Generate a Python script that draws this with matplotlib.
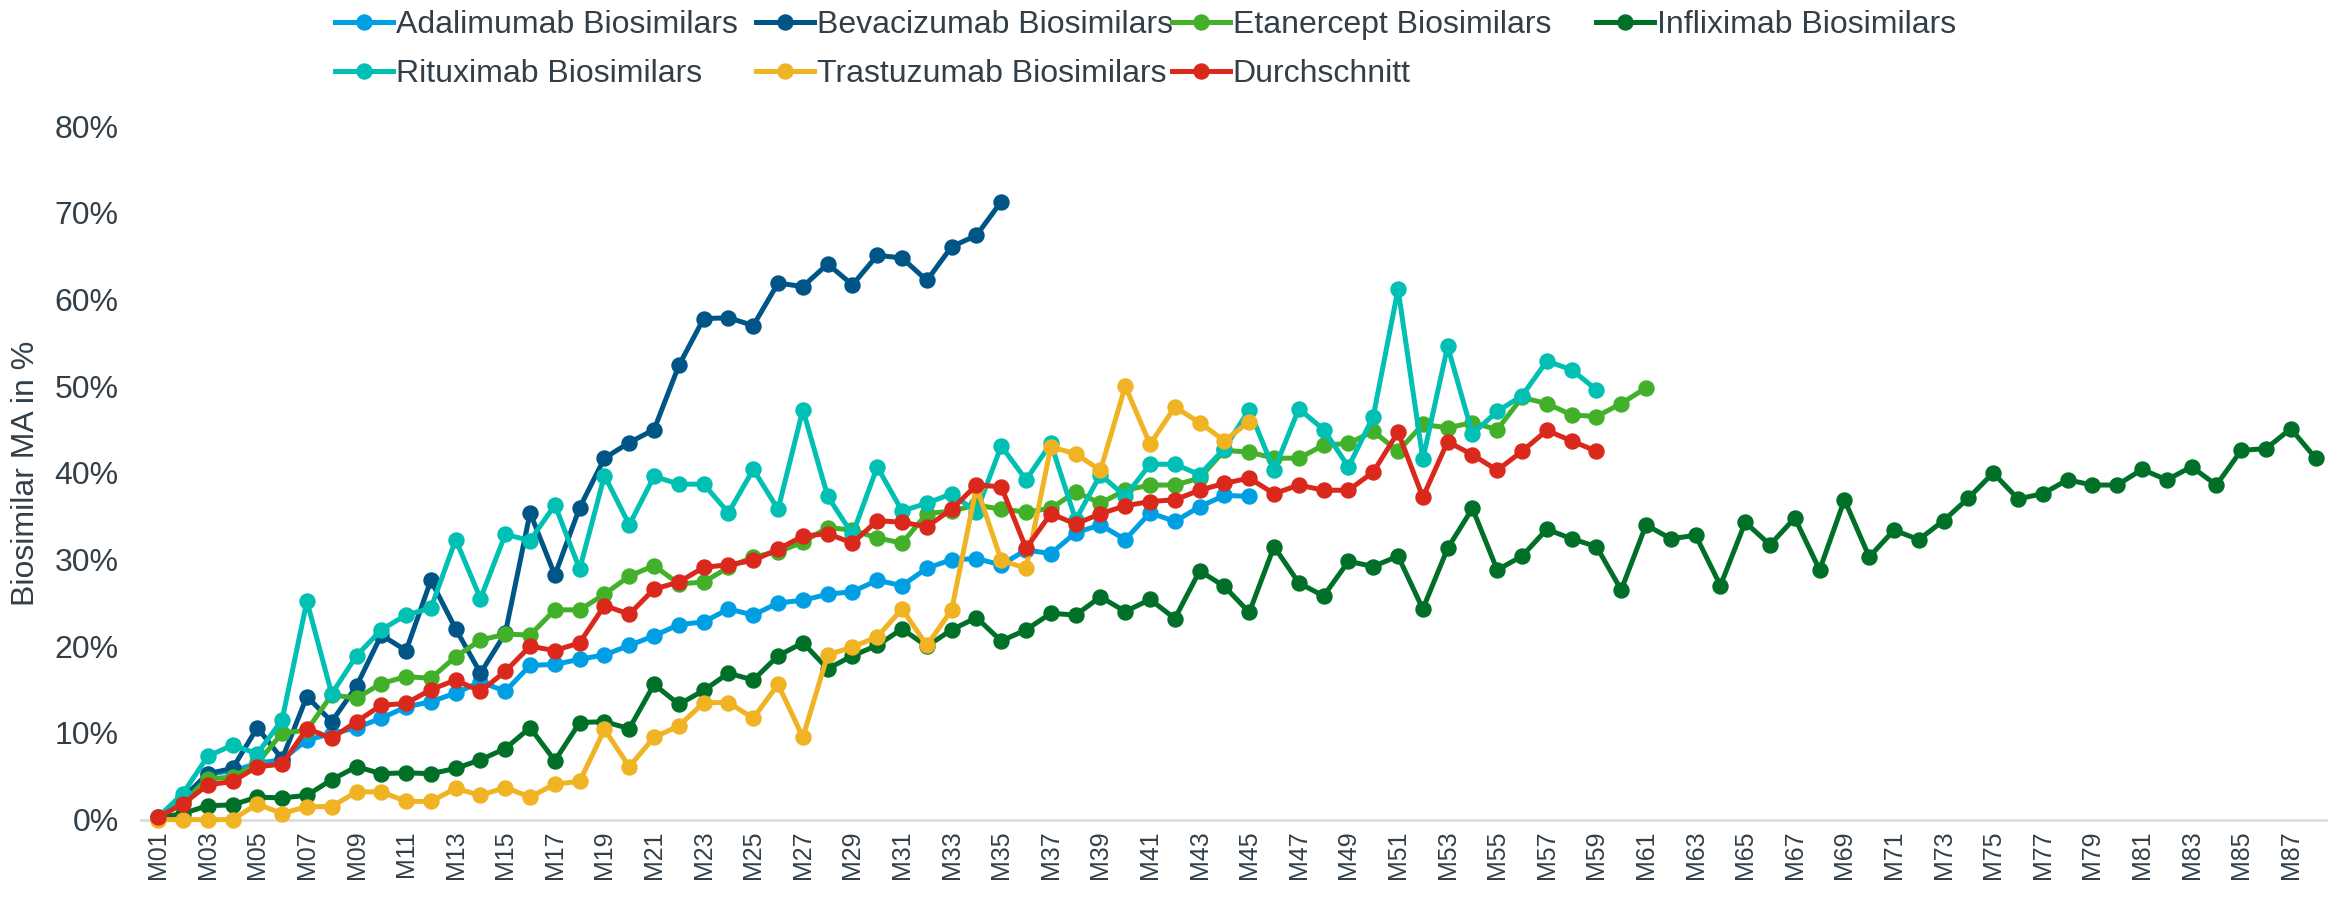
import matplotlib
matplotlib.use("Agg")
import matplotlib.pyplot as plt
from matplotlib.ticker import FuncFormatter

plt.rcParams['font.family'] = ['Liberation Sans', 'DejaVu Sans']

months = [f"M{i:02d}" for i in range(1, 89)]

adalimumab = [0.3, 2.3, 5.3, 5.6, 6.5, 6.9, 9.2, 9.9, 10.6, 11.7,
              13.0, 13.6, 14.6, 15.9, 14.8, 17.8, 17.9, 18.5, 19.0, 20.1,
              21.2, 22.5, 22.8, 24.3, 23.6, 25.0, 25.3, 26.0, 26.3, 27.6,
              27.0, 29.0, 30.0, 30.1, 29.4, 31.1, 30.7, 33.1, 34.0, 32.3,
              35.4, 34.4, 36.1, 37.4, 37.3]
bevacizumab = [0.3, 2.5, 5.3, 5.9, 10.6, 7.0, 14.2, 11.3, 15.4, 21.3,
               19.5, 27.6, 22.0, 16.9, 21.5, 35.4, 28.2, 36.0, 41.7, 43.5,
               45.0, 52.4, 57.8, 57.9, 57.0, 61.9, 61.5, 64.1, 61.7, 65.1,
               64.8, 62.2, 66.1, 67.4, 71.3]
etanercept = [0.2, 2.0, 4.7, 4.9, 6.5, 10.0, 10.3, 14.4, 14.0, 15.7,
              16.5, 16.3, 18.8, 20.7, 21.4, 21.3, 24.2, 24.2, 26.0, 28.1,
              29.3, 27.2, 27.4, 29.1, 30.3, 30.9, 32.0, 33.7, 33.4, 32.5,
              31.9, 35.3, 35.6, 36.3, 35.8, 35.5, 35.9, 37.8, 36.5, 38.0,
              38.6, 38.6, 39.4, 42.6, 42.4, 41.7, 41.7, 43.2, 43.4, 44.8,
              42.5, 45.6, 45.2, 45.8, 45.0, 48.7, 48.0, 46.7, 46.5, 48.0,
              49.8]
infliximab = [0.2, 0.7, 1.6, 1.7, 2.6, 2.5, 2.8, 4.6, 6.1, 5.3,
              5.4, 5.3, 5.9, 6.9, 8.2, 10.6, 6.8, 11.2, 11.3, 10.5,
              15.6, 13.3, 14.9, 16.9, 16.1, 18.9, 20.4, 17.4, 18.9, 20.1,
              22.0, 20.0, 21.9, 23.3, 20.6, 21.9, 23.8, 23.6, 25.7, 24.0,
              25.4, 23.2, 28.7, 26.9, 23.9, 31.5, 27.3, 25.8, 29.8, 29.2,
              30.4, 24.3, 31.3, 35.9, 28.8, 30.4, 33.5, 32.4, 31.5, 26.5,
              34.0, 32.4, 32.8, 27.0, 34.3, 31.7, 34.8, 28.8, 36.9, 30.3,
              33.4, 32.3, 34.5, 37.1, 40.0, 37.0, 37.6, 39.2, 38.6, 38.6,
              40.4, 39.2, 40.7, 38.6, 42.6, 42.8, 45.1, 41.7]
rituximab = [0.3, 3.0, 7.3, 8.6, 7.6, 11.5, 25.2, 14.5, 18.9, 21.9,
             23.6, 24.4, 32.3, 25.5, 32.9, 32.2, 36.3, 28.9, 39.7, 34.0,
             39.6, 38.7, 38.7, 35.4, 40.4, 35.8, 47.3, 37.3, 32.9, 40.7,
             35.6, 36.5, 37.6, 35.5, 43.1, 39.2, 43.4, 34.6, 39.8, 37.3,
             41.0, 41.0, 39.8, 42.8, 47.3, 40.3, 47.4, 45.0, 40.7, 46.5,
             61.2, 41.6, 54.6, 44.5, 47.1, 48.9, 52.9, 51.9, 49.6]
trastuzumab = [0.0, 0.0, 0.0, 0.0, 1.8, 0.7, 1.5, 1.5, 3.2, 3.2,
               2.1, 2.1, 3.6, 2.8, 3.7, 2.6, 4.1, 4.4, 10.4, 6.1,
               9.5, 10.8, 13.5, 13.5, 11.7, 15.6, 9.5, 19.0, 19.9, 21.1,
               24.3, 20.1, 24.2, 38.4, 29.9, 29.0, 43.0, 42.2, 40.3, 50.0,
               43.3, 47.6, 45.8, 43.7, 45.9]
durchschnitt = [0.3, 1.8, 4.0, 4.4, 6.1, 6.4, 10.5, 9.4, 11.3, 13.2,
                13.4, 15.0, 16.1, 14.8, 17.1, 20.0, 19.5, 20.4, 24.7, 23.7,
                26.6, 27.4, 29.1, 29.4, 29.9, 31.2, 32.7, 33.0, 31.9, 34.5,
                34.3, 33.8, 35.8, 38.6, 38.4, 31.3, 35.3, 34.1, 35.3, 36.2,
                36.7, 36.9, 38.0, 38.8, 39.4, 37.6, 38.6, 38.0, 38.0, 40.1,
                44.7, 37.2, 43.6, 42.1, 40.3, 42.5, 44.9, 43.7, 42.5]

series = [
    ("Adalimumab Biosimilars", adalimumab, "#009FE3"),
    ("Bevacizumab Biosimilars", bevacizumab, "#005587"),
    ("Etanercept Biosimilars", etanercept, "#43B02A"),
    ("Infliximab Biosimilars", infliximab, "#007028"),
    ("Rituximab Biosimilars", rituximab, "#00BFB3"),
    ("Trastuzumab Biosimilars", trastuzumab, "#F0B323"),
    ("Durchschnitt", durchschnitt, "#DA291C"),
]

TEXT = "#333F48"

fig = plt.figure(figsize=(23.28, 9.02), dpi=100)
ax = fig.add_axes([141/2328, 82.4/902, (2328-141)/2328, (819.6-126.2)/902])

handles = {}
for name, vals, col in series:
    ln, = ax.plot(months[:len(vals)], vals, color=col, lw=3.6, marker='o',
                  markersize=10.8, clip_on=False, label=name, solid_joinstyle='round')
    handles[name] = ln

ax.set_xlim(-0.69, 87.5)
ax.set_ylim(0, 80)
ax.set_yticks(range(0, 81, 10))
ax.yaxis.set_major_formatter(FuncFormatter(lambda v, p: f"{int(v)}%"))
ax.set_xticks(range(0, 88, 2))
ax.set_xticklabels(months[0::2], rotation=90)

for s in ['top', 'right', 'left']:
    ax.spines[s].set_visible(False)
ax.spines['bottom'].set_color('#D9DEE2')
ax.spines['bottom'].set_linewidth(2)
ax.spines['bottom'].set_zorder(0)

ax.tick_params(axis='y', length=0, pad=16, labelsize=23, labelcolor=TEXT)
ax.tick_params(axis='x', length=0, pad=8, labelsize=18, labelcolor=TEXT)
ax.set_ylabel("Biosimilar MA in %", fontsize=23, color=TEXT, labelpad=10)

columns = [
    (335, ["Adalimumab Biosimilars", "Rituximab Biosimilars"]),
    (756, ["Bevacizumab Biosimilars", "Trastuzumab Biosimilars"]),
    (1172, ["Etanercept Biosimilars", "Durchschnitt"]),
    (1596, ["Infliximab Biosimilars"]),
]
for xpos, names in columns:
    fig.legend([handles[n] for n in names], names, loc='upper left',
               bbox_to_anchor=(xpos/2328, 0.9887), ncol=1, frameon=False,
               fontsize=23, borderpad=0, borderaxespad=0, handlelength=1.8,
               handletextpad=0.1, labelspacing=0.59, labelcolor=TEXT)

fig.savefig("out.png", dpi=100)
